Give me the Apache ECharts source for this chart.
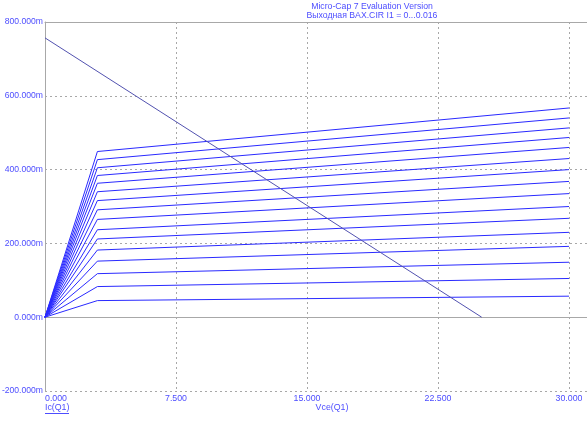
<!DOCTYPE html>
<html>
<head>
<meta charset="utf-8">
<script src="https://cdn.jsdelivr.net/npm/echarts@6/dist/echarts.min.js"></script>
<style>
html,body{margin:0;padding:0;background:#fff;}
#chart{width:587px;height:426px;}
</style>
</head>
<body>
<div id="chart"></div>
<script>
// Vce sample points (V): origin, knee, end of sweep
const vcePoints = [0, 3.0, 30];
// Ic (mA) at knee (Vce=3) for each I1 step, top to bottom
const icAtKnee = [449, 427, 405, 384, 363, 340, 316, 291, 265, 237, 212, 182, 152, 118, 83, 45];
// Ic (mA) at Vce=30 for each I1 step
const icAtEnd = [567, 540, 513, 487, 460, 430, 400, 368, 335, 300, 268, 230, 192, 149, 105, 57];
// Load line end points: [Vce, Ic(mA)]
const loadLine = [[0, 757], [25, 0]];
const xTicks = [0, 7.5, 15, 22.5, 30];
const yTicks = [-200, 0, 200, 400, 600, 800];
const titleLines = ['Micro-Cap 7 Evaluation Version', 'Выходная BAX.CIR I1 = 0...0.016'];

const BLUE_TXT = '#4d4dff';
const GRID = '#a8a8a8';
const FONT = 'Liberation Sans, Arial, sans-serif';

const series = icAtKnee.map((k, i) => ({
  type: 'line',
  data: [[vcePoints[0], 0], [vcePoints[1], k], [vcePoints[2], icAtEnd[i]]],
  showSymbol: false,
  lineStyle: { color: '#2a2aff', width: 1 },
  silent: true,
  z: 3
}));
series.push({
  type: 'line',
  data: loadLine,
  showSymbol: false,
  lineStyle: { color: '#5252b0', width: 1 },
  silent: true,
  z: 3,
  markLine: {
    silent: true,
    symbol: 'none',
    label: { show: false },
    lineStyle: { color: GRID, type: 'solid', width: 1 },
    data: [[{ coord: [0, 0] }, { coord: [30, 0] }]],
    z: 2
  }
});

const chart = echarts.init(document.getElementById('chart'), null, { renderer: 'canvas' });
chart.setOption({
  animation: false,
  backgroundColor: '#fff',
  textStyle: { fontFamily: FONT },
  grid: { left: 45, right: 0, top: 22, bottom: 35, containLabel: false, outerBoundsMode: 'none' },
  xAxis: [{
    type: 'value',
    min: 0,
    max: 30 * 542 / 524,
    interval: 7.5,
    axisLine: { show: true, lineStyle: { color: GRID, width: 1 } },
    axisTick: { show: false },
    axisLabel: {
      color: BLUE_TXT, fontSize: 8.8, fontFamily: FONT, margin: 3,
      showMaxLabel: false, alignMinLabel: 'left',
      formatter: v => xTicks.includes(v) ? v.toFixed(3) : ''
    },
    splitLine: { show: true, lineStyle: { color: GRID, type: [2, 3], width: 1 } }
  }, {
    type: 'value',
    position: 'top',
    min: 0,
    max: 30 * 542 / 524,
    axisLine: { show: true, onZero: false, lineStyle: { color: GRID, width: 1 } },
    axisTick: { show: false },
    axisLabel: { show: false },
    splitLine: { show: false }
  }],
  yAxis: {
    type: 'value',
    min: -200,
    max: 800,
    interval: 200,
    axisLine: { show: true, onZero: false, lineStyle: { color: GRID, width: 1 } },
    axisTick: { show: false },
    axisLabel: {
      color: BLUE_TXT, fontSize: 8.6, fontFamily: FONT, margin: 2,
      formatter: v => yTicks.includes(v) ? v.toFixed(3) + 'm' : ''
    },
    splitLine: { show: true, lineStyle: { color: GRID, type: [2, 3], width: 1 } }
  },
  graphic: [
    { type: 'text', style: { text: titleLines[0], x: 372, y: 6.5, align: 'center', verticalAlign: 'middle', fill: BLUE_TXT, font: '8.7px ' + FONT } },
    { type: 'text', style: { text: titleLines[1], x: 372, y: 16, align: 'center', verticalAlign: 'middle', fill: BLUE_TXT, font: '8.7px ' + FONT } },
    { type: 'text', style: { text: 'Ic(Q1)', x: 45, y: 408, align: 'left', verticalAlign: 'middle', fill: BLUE_TXT, font: '8.8px ' + FONT } },
    { type: 'line', shape: { x1: 45, y1: 413.5, x2: 69, y2: 413.5 }, style: { stroke: BLUE_TXT, lineWidth: 1 } },
    { type: 'text', style: { text: 'Vce(Q1)', x: 332, y: 408, align: 'center', verticalAlign: 'middle', fill: BLUE_TXT, font: '8.8px ' + FONT } }
  ],
  series: series
});
</script>
</body>
</html>
